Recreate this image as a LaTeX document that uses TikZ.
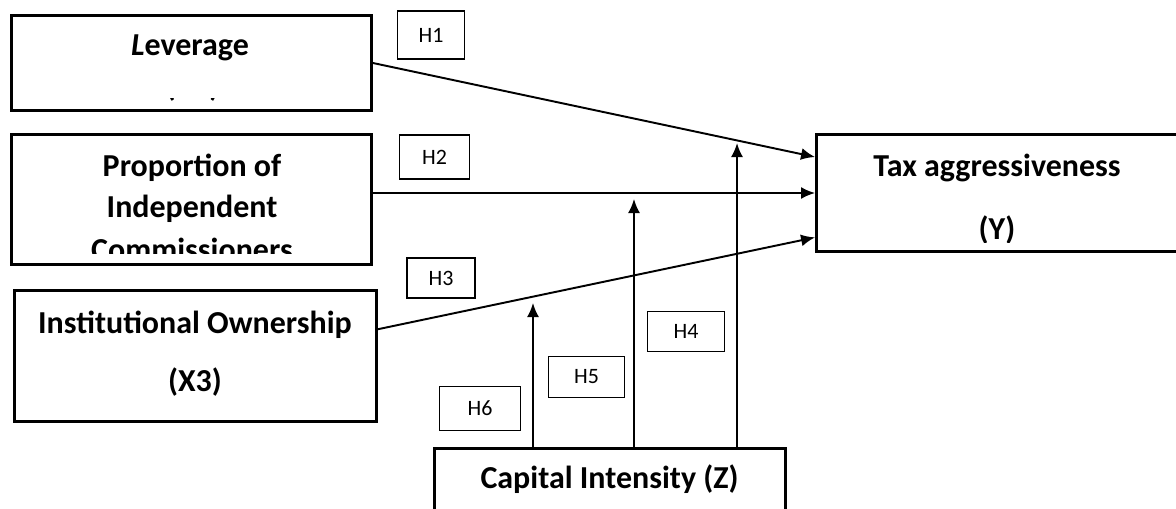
\documentclass[tikz,border=0pt]{standalone}
\usepackage{fontspec}
\setmainfont{Carlito}
\usetikzlibrary{calc,arrows.meta}

\begin{document}
\begin{tikzpicture}
  [x=0.02cm,y=-0.02cm,
   var/.style={draw,line width=1.7pt,inner sep=0pt},
   hyp/.style={draw,line width=0.8pt,inner sep=0pt,font=\fontsize{12.5}{14}\selectfont},
   txt/.style={inner sep=0pt,anchor=base,font=\bfseries\fontsize{18.2}{20}\selectfont},
   arr/.style={-{Latex[length=2.8mm,width=2.4mm]},line width=1.1pt}]

    \useasboundingbox (0,0) rectangle (1176,508);
    \clip (0,0) rectangle (1176,508);

    % variable boxes
    \node[var,minimum width=7.2cm,minimum height=1.9cm]  (lev)  at (191.5,63)  {};
    \node[var,minimum width=7.2cm,minimum height=2.6cm]  (prop) at (191.5,199.5) {};
    \node[var,minimum width=7.24cm,minimum height=2.62cm] (inst) at (195.5,356) {};
    \node[var,minimum width=7.22cm,minimum height=2.34cm] (tax)  at (997,193)  {};
    \node[var,minimum width=7.02cm,minimum height=1.6cm]  (cap)  at (610,488.5) {};

    % texts (some lines are cut off, as printed)
    \node[txt] (levt) at (190,55) {\textit{L}everage};
    \begin{scope}
      \clip (lev.west |- 0,98) rectangle (lev.east |- 0,102);
      \node[txt] (levx) at (192.5,96) {(X1)};
    \end{scope}

    \node[txt] (propa) at (192,176) {Proportion of};
    \node[txt] (propb) at (192,217) {Independent};
    \begin{scope}
      \clip (prop.north west) rectangle (prop.east |- 0,253);
      \node[txt] (propc) at (192,260) {Commissioners};
    \end{scope}

    \node[txt] (insta) at (195,333) {Institutional Ownership};
    \node[txt] (instb) at (195,391) {(X3)};

    \node[txt] (taxa) at (997,176) {Tax aggressiveness};
    \begin{scope}
      \clip (tax.north west) rectangle (tax.east |- 0,242);
      \node[txt] (taxb) at (997,239) {(Y)};
    \end{scope}

    \node[txt] (capt) at (609.5,488) {Capital Intensity (Z)};

    % hypothesis boxes
    \node[hyp,minimum width=1.34cm,minimum height=0.96cm] (h1) at (431,35)    {H1};
    \node[hyp,minimum width=1.4cm,minimum height=0.88cm]  (h2) at (434.5,157) {H2};
    \node[hyp,minimum width=1.36cm,minimum height=0.8cm]  (h3) at (441,278)   {H3};
    \node[hyp,minimum width=1.54cm,minimum height=0.8cm]  (h4) at (686,331.5) {H4};
    \node[hyp,minimum width=1.52cm,minimum height=0.82cm] (h5) at (586.5,377) {H5};
    \node[hyp,minimum width=1.62cm,minimum height=0.88cm] (h6) at (480,408.5) {H6};

    % direct effects
    \draw[arr] (lev.east) -- ($(tax.north west)!0.2!(tax.south west)$);
    \draw[arr] (prop.east |- tax.west) -- (tax.west);
    \draw[arr] ($(inst.north east)!0.3!(inst.south east)$) -- ($(tax.north west)!0.87!(tax.south west)$);

    % moderating effects
    \coordinate (m6) at (533,303);
    \coordinate (m5) at (634,199);
    \coordinate (m4) at (737,143);
    \draw[arr] (cap.north -| m6) -- (m6);
    \draw[arr] (cap.north -| m5) -- (m5);
    \draw[arr] (cap.north -| m4) -- (m4);

\end{tikzpicture}
\end{document}
